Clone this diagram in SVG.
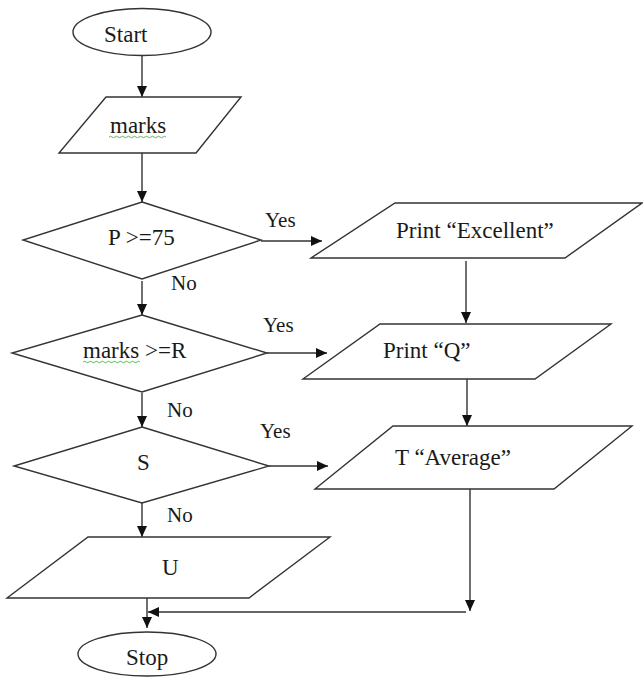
<svg xmlns="http://www.w3.org/2000/svg" width="643" height="678" viewBox="0 0 643 678">
<style>
.s{fill:#fff;stroke:#333;stroke-width:1.4}
.c{fill:none;stroke:#333;stroke-width:1.4}
.t{font-family:"Liberation Serif","Times New Roman",serif;font-size:23px;fill:#1a1a1a}
.l{font-family:"Liberation Serif","Times New Roman",serif;font-size:21px;fill:#1a1a1a}
.w{fill:none;stroke:#5cb85c;stroke-width:1}
</style>
<defs>
<marker id="ah" markerUnits="userSpaceOnUse" markerWidth="12" markerHeight="10" refX="11" refY="5" orient="auto">
<path d="M0,0 L11,5 L0,10 Z" fill="#111"/>
</marker>
</defs>
<rect width="643" height="678" fill="#fff"/>
<g id="connectors">
<line class="c" x1="142" y1="55" x2="142" y2="97" marker-end="url(#ah)"/>
<line class="c" x1="142" y1="153" x2="142" y2="202" marker-end="url(#ah)"/>
<line class="c" x1="261" y1="241" x2="322" y2="241" marker-end="url(#ah)"/>
<line class="c" x1="142" y1="281" x2="142" y2="315" marker-end="url(#ah)"/>
<line class="c" x1="466" y1="261" x2="466" y2="323" marker-end="url(#ah)"/>
<line class="c" x1="267" y1="353" x2="327" y2="353" marker-end="url(#ah)"/>
<line class="c" x1="142" y1="393" x2="142" y2="427" marker-end="url(#ah)"/>
<line class="c" x1="467" y1="379" x2="467" y2="426" marker-end="url(#ah)"/>
<line class="c" x1="269" y1="466" x2="328" y2="466" marker-end="url(#ah)"/>
<line class="c" x1="142" y1="503" x2="142" y2="537" marker-end="url(#ah)"/>
<line class="c" x1="470" y1="489" x2="470" y2="611" marker-end="url(#ah)"/>
<line class="c" x1="466" y1="612" x2="148" y2="612" marker-end="url(#ah)"/>
<line class="c" x1="147" y1="598" x2="147" y2="628" marker-end="url(#ah)"/>
</g>
<g id="start">
<ellipse class="s" cx="142" cy="32" rx="69" ry="23.5"/>
<text class="t" x="104" y="42">Start</text>
</g>
<g id="marks">
<polygon class="s" points="106,97 241,97 196,153 59,153"/>
<text class="t" x="110" y="133">marks</text>
<path class="w" d="M109,137 q1.5,-1.5 3,0 t3,0 t3,0 t3,0 t3,0 t3,0 t3,0 t3,0 t3,0 t3,0 t3,0 t3,0 t3,0 t3,0 t3,0 t3,0 t3,0 t3,0 t3,0"/>
</g>
<g id="d1">
<polygon class="s" points="142,202 261,240 142,279 23,240"/>
<text class="t" x="108" y="245">P &gt;=75</text>
<text class="l" x="265" y="227">Yes</text>
<text class="l" x="171" y="290">No</text>
</g>
<g id="excellent">
<polygon class="s" points="395,203 642,203 565,258 311,258"/>
<text class="t" x="396" y="238">Print “Excellent”</text>
</g>
<g id="d2">
<polygon class="s" points="142,315 267,353 142,392 12,353"/>
<text class="t" x="83" y="358">marks &gt;=R</text>
<path class="w" d="M83,362 q1.5,-1.5 3,0 t3,0 t3,0 t3,0 t3,0 t3,0 t3,0 t3,0 t3,0 t3,0 t3,0 t3,0 t3,0 t3,0 t3,0 t3,0 t3,0 t3,0 t3,0"/>
<text class="l" x="263" y="332">Yes</text>
<text class="l" x="167" y="417">No</text>
</g>
<g id="printq">
<polygon class="s" points="380,324 611,324 535,379 303,379"/>
<text class="t" x="383" y="358">Print “Q”</text>
</g>
<g id="d3">
<polygon class="s" points="142,427 269,466 142,503 14,466"/>
<text class="t" x="137" y="470">S</text>
<text class="l" x="260" y="438">Yes</text>
<text class="l" x="167" y="522">No</text>
</g>
<g id="average">
<polygon class="s" points="393,426 632,426 554,489 315,489"/>
<text class="t" x="395" y="465">T “Average”</text>
</g>
<g id="u">
<polygon class="s" points="88,537 330,537 249,598 7,598"/>
<text class="t" x="162" y="575">U</text>
</g>
<g id="stop">
<ellipse class="s" cx="147" cy="654" rx="69" ry="22"/>
<text class="t" x="126" y="665">Stop</text>
</g>
</svg>
